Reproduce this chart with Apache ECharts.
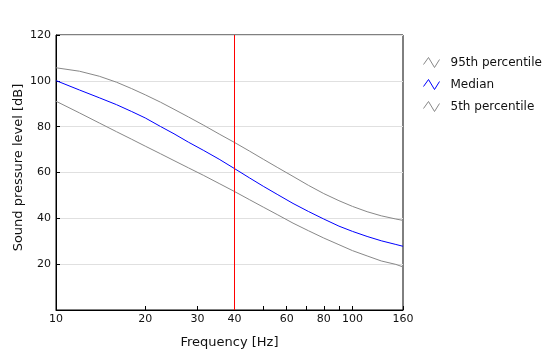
<!DOCTYPE html>
<html>
<head>
<meta charset="utf-8">
<script src="https://cdn.jsdelivr.net/npm/echarts@6/dist/echarts.min.js"></script>
<style>
html,body{margin:0;padding:0;background:#fff;}
#c{width:560px;height:360px;}
</style>
</head>
<body>
<div id="c"></div>
<script>
// Frequencies (Hz)
var freqs = [10, 12, 14, 16, 18, 20, 22.5, 25, 28, 31.5, 35.5, 40, 45, 50, 56, 63, 71, 80, 90, 100, 112, 125, 140, 148];
// Sound pressure level (dB)
var p95 = [105.7, 104.2, 102.0, 99.4, 96.6, 93.9, 90.7, 87.6, 84.2, 80.6, 76.8, 73.1, 69.3, 65.8, 62.1, 58.3, 54.4, 50.8, 47.7, 45.2, 42.9, 41.1, 39.7, 39.1];
var median = [100.1, 96.0, 92.6, 89.6, 86.6, 83.8, 80.1, 76.9, 73.2, 69.6, 65.8, 61.7, 57.6, 54.0, 50.3, 46.5, 43.0, 39.7, 36.6, 34.3, 32.1, 30.2, 28.6, 27.8];
var p5 = [91.1, 86.0, 81.6, 77.8, 74.5, 71.5, 68.2, 65.2, 62.0, 58.7, 55.2, 51.7, 48.1, 44.9, 41.5, 37.9, 34.6, 31.4, 28.5, 25.9, 23.6, 21.4, 19.9, 18.8];
// X tick marks and labels (last tick sits at the axis end and is labelled 160)
var xTickValues = [10, 20, 30, 40, 50, 60, 70, 80, 90, 100, 148];
var xLabelValues = [10, 20, 30, 40, 60, 80, 100, 148];
var xTickLabels = ['10', '20', '30', '40', '60', '80', '100', '160'];
var markerFreq = 40;
var seriesNames = ['95th percentile', 'Median', '5th percentile'];

function zip(xs, ys) { return xs.map(function (x, i) { return [x, ys[i]]; }); }

var zig = 'path://M0,7 L5,0 L11,10 L16,2';
var font = 'DejaVu Sans';

var chart = echarts.init(document.getElementById('c'), null, {renderer: 'canvas'});
chart.setOption({
  animation: false,
  backgroundColor: '#ffffff',
  textStyle: {fontFamily: font},
  grid: {left: 56, top: 35, right: 157, bottom: 50, outerBoundsMode: 'none', containLabel: false, show: true, borderColor: '#000', borderWidth: 1, backgroundColor: 'transparent'},
  legend: {
    orient: 'vertical', left: 416, top: 50,
    itemWidth: 28, itemHeight: 10, itemGap: 7,
    textStyle: {fontFamily: font, fontSize: 12, color: '#111'},
    data: [
      {name: seriesNames[0], icon: zig, itemStyle: {color: 'none', borderColor: '#888888', borderWidth: 1}},
      {name: seriesNames[1], icon: zig, itemStyle: {color: 'none', borderColor: '#0000ff', borderWidth: 1}},
      {name: seriesNames[2], icon: zig, itemStyle: {color: 'none', borderColor: '#888888', borderWidth: 1}}
    ]
  },
  xAxis: {
    type: 'log', logBase: 10, min: 10, max: 148,
    name: 'Frequency [Hz]', nameLocation: 'middle', nameGap: 26, nameMoveOverlap: false,
    nameTextStyle: {fontFamily: font, fontSize: 13, color: '#111'},
    axisLine: {lineStyle: {color: '#000', width: 1}},
    axisTick: {inside: true, length: 4, customValues: xTickValues, lineStyle: {color: '#000'}},
    minorTick: {show: false},
    splitLine: {show: false},
    axisLabel: {
      customValues: xLabelValues, margin: 4, fontFamily: font, fontSize: 11, color: '#111',
      formatter: function (v) {
        var best = 0, bd = Infinity;
        for (var i = 0; i < xLabelValues.length; i++) {
          var d = Math.abs(Math.log(v) - Math.log(xLabelValues[i]));
          if (d < bd) { bd = d; best = i; }
        }
        return xTickLabels[best];
      }
    }
  },
  yAxis: {
    type: 'value', min: 0, max: 120, interval: 20,
    name: 'Sound pressure level [dB]', nameLocation: 'middle', nameGap: 31, nameMoveOverlap: false,
    nameTextStyle: {fontFamily: font, fontSize: 13, color: '#111', padding: [0, 0, 0, 10]},
    axisLine: {show: true, lineStyle: {color: '#000', width: 1}},
    axisTick: {show: true, inside: true, length: 4, lineStyle: {color: '#000'}},
    splitLine: {show: true, lineStyle: {color: '#e0e0e0', width: 1}},
    axisLabel: {showMinLabel: false, margin: 5, fontFamily: font, fontSize: 11, color: '#111'}
  },
  series: [
    {name: seriesNames[0], type: 'line', data: zip(freqs, p95), showSymbol: false, symbol: 'none', lineStyle: {color: '#888888', width: 1}, itemStyle: {color: '#888888'}},
    {name: seriesNames[1], type: 'line', data: zip(freqs, median), showSymbol: false, symbol: 'none', lineStyle: {color: '#0000ff', width: 1}, itemStyle: {color: '#0000ff'},
      markLine: {silent: true, symbol: 'none', z: 10, label: {show: false}, emphasis: {disabled: true},
        lineStyle: {color: '#ff0000', width: 1, type: 'solid', opacity: 1}, data: [{xAxis: markerFreq}]}},
    {name: seriesNames[2], type: 'line', data: zip(freqs, p5), showSymbol: false, symbol: 'none', lineStyle: {color: '#888888', width: 1}, itemStyle: {color: '#888888'}}
  ]
});
</script>
</body>
</html>
